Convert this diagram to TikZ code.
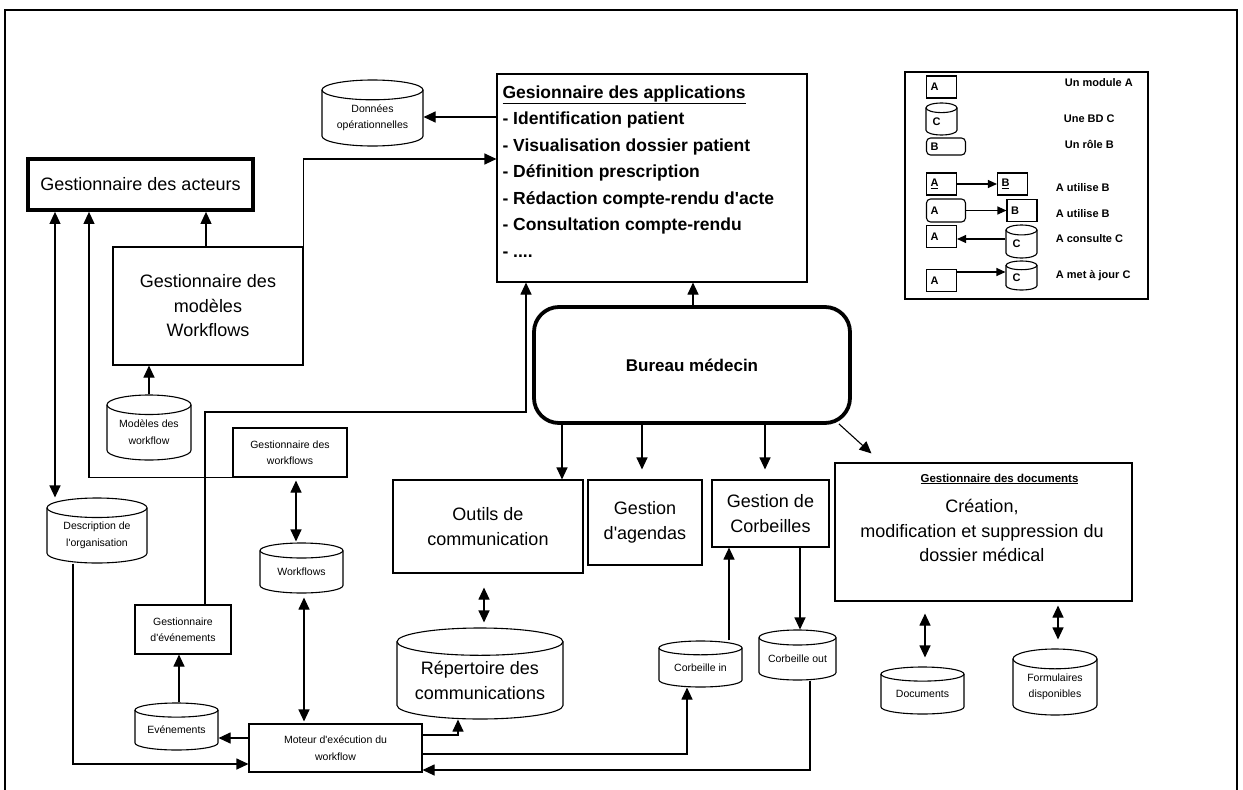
\documentclass[tikz,border=0pt]{standalone}
\usepackage{fontspec}
\setmainfont{Liberation Sans}
\usetikzlibrary{arrows.meta}

% database drawn as a cylinder: [text style]{name}{x1}{y1}{x2}{y2}{text}
\newcommand{\dbcyl}[7][]{%
	\node[inner sep=0, minimum width={(#5-#3)*1pt}, minimum height={(#6-#4)*1pt}] (#2) at ({(#3+#5)/2},{(#4+#6)/2}) {};
	\draw ({#3},{#4+0.15*(#6-#4)}) -- ({#3},{#6-0.15*(#6-#4)}) arc[start angle=180, end angle=360, x radius={(#5-#3)/2*1pt}, y radius={0.15*(#6-#4)*1pt}] -- ({#5},{#4+0.15*(#6-#4)});
	\draw ({(#3+#5)/2},{#4+0.15*(#6-#4)}) ellipse [x radius={(#5-#3)/2*1pt}, y radius={0.15*(#6-#4)*1pt}];
	\node[#1] (#2-t) at ({(#3+#5)/2},{(#4+#6)/2+0.075*(#6-#4)}) {#7};
}

\begin{document}
\begin{tikzpicture}[x=1pt, y=-1pt, line width=1.1pt, >={Triangle[length=12pt,width=11pt]}]
	\tikzstyle{every node} = [font = \fontsize{10.5}{16.5}\selectfont, align = center]
	\tikzstyle{box} = [draw, inner sep = 2pt]
	\tikzstyle{big} = [font = \fontsize{18}{24.5}\selectfont]
	\tikzstyle{leg} = [font = \bfseries\fontsize{11}{12}\selectfont]
	\tikzstyle{legbox} = [draw, leg, minimum height = 22pt, text width = 22pt, align = left, inner xsep = 4pt]
	\tikzstyle{legarrow} = [->, >={Triangle[length=9pt,width=8pt]}]
	\useasboundingbox (0,0) rectangle (1243,790);
	\draw (5,790) -- (5,10) -- (1237,10) -- (1237,790); % frame

	% left part
	\node[box, line width = 3.8pt, big, minimum width = 225pt, minimum height = 51pt] (acteurs) at (140.5,184.5) {Gestionnaire des acteurs};
	\node[box, big, minimum width = 190pt, minimum height = 118pt] (modeles) at (208,306) {Gestionnaire des\\mod\`eles\\Workflows};
	\dbcyl{donnees}{322}{80}{423}{146}{Donn\'ees\\op\'erationnelles}
	\dbcyl{modwf}{107}{395}{191}{460}{Mod\`eles des\\workflow}
	\node[box, minimum width = 114pt, minimum height = 49pt] (gwf) at (290,452.5) {Gestionnaire des\\workflows};
	\dbcyl{descr}{47}{498}{147}{563}{Description de\\l\textquotesingle organisation}
	\dbcyl{wf}{260}{543}{343}{593}{Workflows}
	\node[box, minimum width = 96pt, minimum height = 49pt] (gevt) at (183,629.5) {Gestionnaire\\d\textquotesingle \'ev\'enements};
	\dbcyl{evt}{135}{703}{218}{750}{Ev\'enements}
	\node[box, minimum width = 173pt, minimum height = 48pt] (moteur) at (335.5,748) {Moteur d\textquotesingle ex\'ecution du\\workflow};

	% applications
	\node[box, minimum width = 310pt, minimum height = 208pt] (apps) at (652,178) {};
	\node[anchor = north west, align = left, inner sep = 0, font = \bfseries\fontsize{17.5}{26.5}\selectfont] (appstext) at (502,85)
		{\underline{Gesionnaire des applications}\\- Identification patient\\- Visualisation dossier patient\\- D\'efinition prescription\\- R\'edaction compte-rendu d\textquotesingle acte\\- Consultation compte-rendu\\- ....};

	% bureau and its tools
	\node[draw, line width = 3.8pt, rounded corners = 25pt, minimum width = 316pt, minimum height = 116pt, font = \bfseries\fontsize{17}{20}\selectfont] (bm) at (692,365) {Bureau m\'edecin};
	\node[box, big, minimum width = 190pt, minimum height = 93pt] (outils) at (488,526.5) {Outils de\\communication};
	\node[box, big, minimum width = 114pt, minimum height = 85pt] (agendas) at (645,522.5) {Gestion\\d\textquotesingle agendas};
	\node[box, big, minimum width = 117pt, minimum height = 67pt] (corbeilles) at (770.5,513.5) {Gestion de\\Corbeilles};
	\dbcyl[big]{rep}{397}{628}{563}{719}{R\'epertoire des\\communications}
	\dbcyl{corbin}{659}{641}{742}{687}{Corbeille in}
	\dbcyl{corbout}{759}{630}{836}{680}{Corbeille out}

	% documents
	\node[box, minimum width = 297pt, minimum height = 138pt] (docs) at (983.5,532) {};
	\node[font = \bfseries\fontsize{11.5}{13}\selectfont] (docstitle) at (999.5,479) {\underline{Gestionnaire des documents}};
	\node[big] (docsbody) at (982,530.5) {Cr\'eation,\\modification et suppression du\\dossier m\'edical};
	\dbcyl{documents}{881}{667}{964}{714}{Documents}
	\dbcyl{formul}{1013}{649}{1097}{715}{Formulaires\\disponibles}

	% connectors
	\draw[->] (apps.west |- 0,117) -- (donnees.east |- 0,117);
	\draw[->] (modeles.north east) |- (apps.west |- 0,159);
	\draw[->] (modeles.north -| 206,0) -- (acteurs.south -| 206,0);
	\draw[<->] (acteurs.south -| 55,0) -- (descr.north -| 55,0);
	\draw[->] (gwf.south west) -| (acteurs.south -| 89,0);
	\draw[->] (gevt.north -| 205,0) |- (526,412) -- (apps.south -| 526,0);
	\draw[->] (modwf.north -| 149,0) -- (modeles.south -| 149,0);
	\draw[<->, shorten <= 3pt, shorten >= 1pt] (gwf.south -| 296,0) -- (wf.north -| 296,0);
	\draw[<->, shorten <= 4pt, shorten >= 2pt] (wf.south -| 304,0) -- (moteur.north -| 304,0);
	\draw[->] (evt.north -| 179,0) -- (gevt.south -| 179,0);
	\draw[->] (moteur.west |- 0,738) -- (evt.east |- 0,738);
	\draw[->] (descr.south -| 73,0) |- (moteur.west |- 0,764);
	\draw[->] (moteur.east |- 0,735) -| (rep.south -| 458,0);
	\draw[->] (moteur.east |- 0,754) -| (corbin.south -| 687,0);
	\draw[->] (corbout.south -| 810,0) |- (moteur.east |- 0,770);
	\draw[->] (bm.north -| 693,0) -- (apps.south -| 693,0);
	\draw[->] (bm.south -| 562,0) -- (outils.north -| 562,0);
	\draw[->, shorten >= 10pt] (bm.south -| 642,0) -- (agendas.north -| 642,0);
	\draw[->, shorten >= 10pt] (bm.south -| 765,0) -- (corbeilles.north -| 765,0);
	\draw[->] ([xshift = -13pt, yshift = 1pt]bm.south east) -- ([shift = {(37pt,9pt)}]docs.north west);
	\draw[<->, shorten <= 14pt, shorten >= 5pt] (outils.south -| 484,0) -- (rep.north -| 484,0);
	\draw[->] (corbin.north -| 729,0) -- (corbeilles.south -| 729,0);
	\draw[->] (corbeilles.south -| 800,0) -- (corbout.north -| 800,0);
	\draw[<->, shorten <= 12pt, shorten >= 9pt] (docs.south -| 925,0) -- (documents.north -| 925,0);
	\draw[<->, shorten <= 4pt, shorten >= 9pt] (docs.south -| 1058,0) -- (formul.north -| 1058,0);

	% legend
	\node[draw, minimum width = 243pt, minimum height = 227pt] (legend) at (1026.5,185.5) {};
	\node[legbox] (la1) at (941.5,87) {A};
	\node[leg, anchor = west] (lt1) at (1061,83) {Un module A};
	\dbcyl[leg, xshift = -5pt]{lc2}{926}{103}{957}{135}{C}
	\node[leg, anchor = west] (lt2) at (1060,119) {Une BD C};
	\node[legbox, rounded corners = 4pt, text width = 31pt, minimum height = 17pt] (lb3) at (946,146.5) {B};
	\node[leg, anchor = west] (lt3) at (1061,144) {Un r\^ole B};
	\node[legbox] (la4) at (941.5,184) {\underline{A}};
	\node[legbox] (lb4) at (1012.5,184) {\underline{B}};
	\node[leg, anchor = west] (lt4) at (1052,188) {A utilise B};
	\node[legbox, rounded corners = 4pt, text width = 31pt, minimum height = 23pt] (la5) at (946,210.5) {A};
	\node[legbox] (lb5) at (1022,210.5) {B};
	\node[leg, anchor = west] (lt5) at (1052,214) {A utilise B};
	\node[legbox] (la6) at (941.5,236.5) {A};
	\dbcyl[leg, xshift = -5pt]{lc6}{1006}{225}{1037}{258}{C}
	\node[leg, anchor = west] (lt6) at (1052,239) {A consulte C};
	\node[legbox] (la7) at (941.5,280.5) {A};
	\dbcyl[leg, xshift = -5pt]{lc7}{1006}{261}{1037}{290}{C}
	\node[leg, anchor = west] (lt7) at (1052,276) {A met \`a jour C};
	\draw[legarrow] (la4) -- (lb4);
	\draw[legarrow] (la5) -- (lb5);
	\draw[legarrow] (lc6.west |- 0,239) -- (la6.east |- 0,239);
	\draw[legarrow] (la7.east |- 0,272) -- (lc7.west |- 0,272);
\end{tikzpicture}
\end{document}
